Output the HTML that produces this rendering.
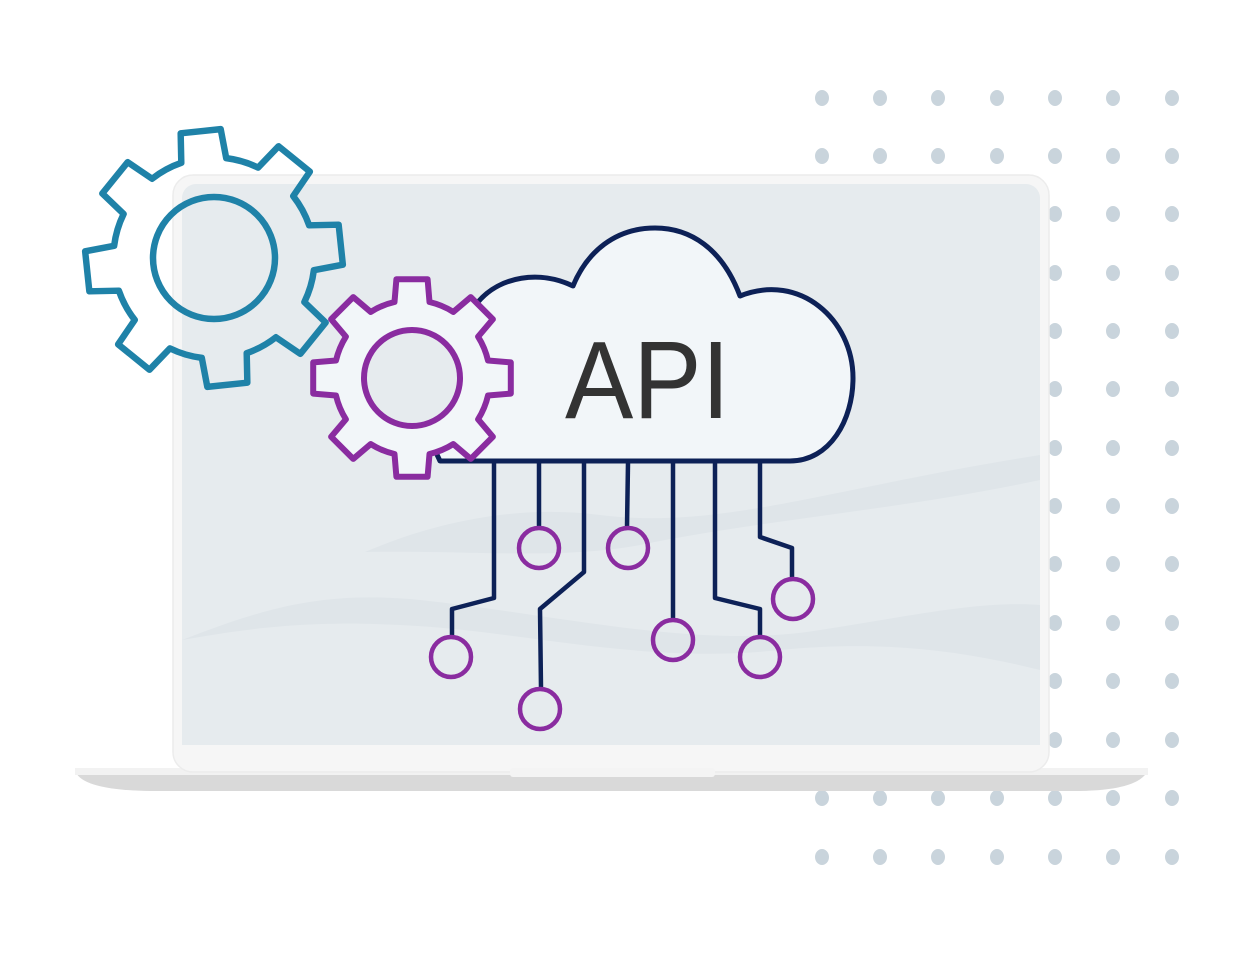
<!DOCTYPE html>
<html><head><meta charset="utf-8"><style>
html,body{margin:0;padding:0;background:#fff;}
svg{display:block;}
</style></head><body>
<svg width="1256" height="960" viewBox="0 0 1256 960" xmlns="http://www.w3.org/2000/svg">
<defs>
<path id="gear" d="M98.8,-15.6 L98.8,15.6 L76,17.5 A78 78 0 0 1 66.1,41.3 L80.9,58.8 L58.8,80.9 L41.3,66.1 A78 78 0 0 1 17.5,76 L15.6,98.8 L-15.6,98.8 L-17.5,76 A78 78 0 0 1 -41.3,66.1 L-58.8,80.9 L-80.9,58.8 L-66.1,41.3 A78 78 0 0 1 -76,17.5 L-98.8,15.6 L-98.8,-15.6 L-76,-17.5 A78 78 0 0 1 -66.1,-41.3 L-80.9,-58.8 L-58.8,-80.9 L-41.3,-66.1 A78 78 0 0 1 -17.5,-76 L-15.6,-98.8 L15.6,-98.8 L17.5,-76 A78 78 0 0 1 41.3,-66.1 L58.8,-80.9 L80.9,-58.8 L66.1,-41.3 A78 78 0 0 1 76,-17.5 Z"/>
</defs>
<g fill="#c9d4dc">
<g id="col">
<ellipse cx="822" cy="98" rx="7" ry="8"/><ellipse cx="822" cy="156" rx="7" ry="8"/><ellipse cx="822" cy="214" rx="7" ry="8"/><ellipse cx="822" cy="273" rx="7" ry="8"/><ellipse cx="822" cy="331" rx="7" ry="8"/><ellipse cx="822" cy="389" rx="7" ry="8"/><ellipse cx="822" cy="448" rx="7" ry="8"/><ellipse cx="822" cy="506" rx="7" ry="8"/><ellipse cx="822" cy="564" rx="7" ry="8"/><ellipse cx="822" cy="623" rx="7" ry="8"/><ellipse cx="822" cy="681" rx="7" ry="8"/><ellipse cx="822" cy="740" rx="7" ry="8"/><ellipse cx="822" cy="798" rx="7" ry="8"/><ellipse cx="822" cy="857" rx="7" ry="8"/>
</g>
<use href="#col" x="58"/><use href="#col" x="116"/><use href="#col" x="175"/><use href="#col" x="233"/><use href="#col" x="291"/><use href="#col" x="350"/>
</g>
<path d="M75,770 L1148,770 Q1140,790 1080,791 L150,791 Q80,790 75,770 Z" fill="#d9d9d9"/>
<rect x="75" y="768" width="1073" height="7" fill="#f2f2f2"/>
<rect x="173" y="175" width="876" height="597" rx="20" fill="#f6f6f6" stroke="#ececec" stroke-width="1.5"/>
<rect x="510" y="768" width="205" height="9" rx="3" fill="#f4f4f4"/>
<rect x="182" y="184" width="858" height="561" rx="14" fill="#e6ebee"/>
<rect x="182" y="700" width="858" height="45" fill="#e6ebee"/>
<path d="M182,640 C260,610 320,590 420,600 C560,615 700,650 820,630 C900,618 980,600 1040,605 L1040,670 C960,650 880,640 780,650 C640,665 520,630 400,625 C300,620 240,630 182,640 Z" fill="#dfe5e9"/>
<path d="M365,552 C440,520 520,505 600,515 C720,530 820,490 1040,455 L1040,480 C900,510 760,520 640,545 C560,560 470,550 365,552 Z" fill="#dfe5e9"/>
<path d="M440,461 L790,461 C830,461 853,420 853,378 C853,320 800,272 740,296 C722,248 690,228 655,228 C615,228 587,252 573,286 C540,270 500,276 478,302 C430,330 410,400 440,461 Z" fill="#f2f6f9" stroke="#0d2157" stroke-width="5" stroke-linejoin="round"/>
<text x="565" y="418" font-family="Liberation Sans, sans-serif" font-size="110" fill="#333" textLength="165" lengthAdjust="spacingAndGlyphs">API</text>
<g fill="none" stroke="#0d2157" stroke-width="4.5" stroke-linejoin="round">
<path d="M494,463 L494,598 L452,609 L452,636"/>
<path d="M539,463 L539,527"/>
<path d="M584,463 L584,572 L540,609 L541,688"/>
<path d="M628,463 L627,527"/>
<path d="M673,463 L673,620"/>
<path d="M715,463 L715,598 L760,609 L760,636"/>
<path d="M760,463 L760,537 L792,548 L792,578"/>
</g>
<g fill="none" stroke="#8a2ca0" stroke-width="4.5">
<circle cx="451" cy="657" r="20"/><circle cx="539" cy="548" r="20"/><circle cx="540" cy="709" r="20"/><circle cx="628" cy="548" r="20"/><circle cx="673" cy="640" r="20"/><circle cx="760" cy="657" r="20"/><circle cx="793" cy="599" r="20"/>
</g>
<g transform="translate(214,258) rotate(-6) scale(1.29)">
<use href="#gear" fill="none" stroke="#1f82a8" stroke-width="5" stroke-linejoin="round"/>
</g>
<circle cx="214" cy="258" r="61" fill="none" stroke="#1f82a8" stroke-width="6.5"/>
<g transform="translate(412,378)">
<use href="#gear" fill="#f2f6f9" stroke="#8a2ca0" stroke-width="6" stroke-linejoin="round"/>
</g>
<circle cx="412" cy="378" r="48" fill="#e6ebee" stroke="#8a2ca0" stroke-width="6"/>
</svg>
</body></html>
